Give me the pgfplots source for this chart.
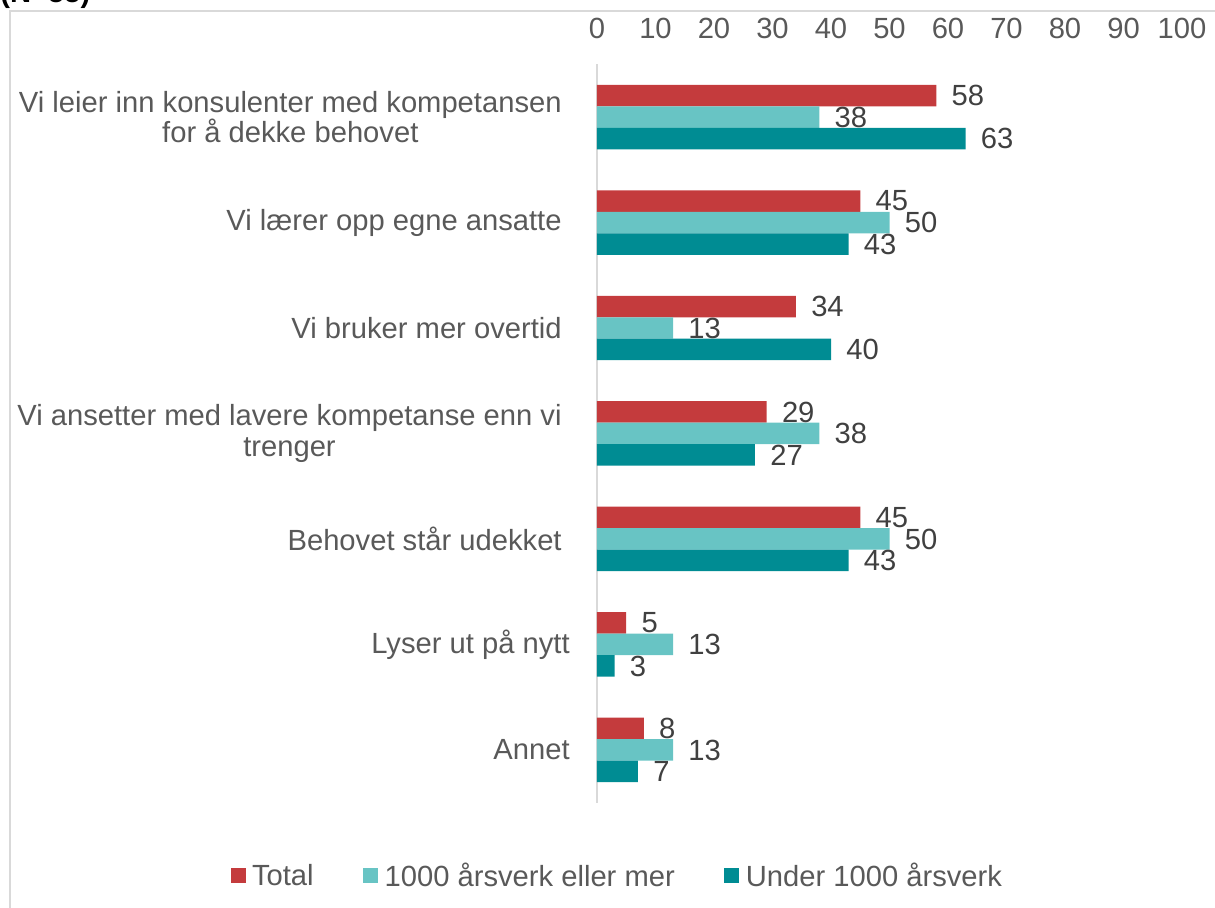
\documentclass[border=0pt]{standalone}
\usepackage{fontspec}
\setmainfont{Liberation Sans}
\usepackage{pgfplots}
\pgfplotsset{compat=1.18}
\definecolor{cTotal}{HTML}{C43B3D}
\definecolor{cBig}{HTML}{68C4C4}
\definecolor{cSmall}{HTML}{008C93}
\definecolor{txt}{HTML}{595959}
\definecolor{val}{HTML}{404040}
\definecolor{frame}{HTML}{D9D9D9}
\newcommand\f{\fontsize{16.6}{17.5}\selectfont}

% rows: 0 = Annet (bottom) ... 6 = Vi leier inn (top)
\pgfplotstableread{
row total big small
0   8   13  7
1   5   13  3
2   45  50  43
3   29  38  27
4   34  13  40
5   45  50  43
6   58  38  63
}\data

\begin{document}
\begin{tikzpicture}
\useasboundingbox (0,0) rectangle (24.3cm,18.16cm);
\clip (0,0) rectangle (24.3cm,18.16cm);
% outer frame and cut title
\draw[frame, line width=0.04cm] (0.2cm,0) -- (0.2cm,17.94cm) -- (24.3cm,17.94cm);
\node[anchor=base west, inner sep=0pt, font=\f\bfseries, text=black] at (0,18.1cm) {(N=55)};

\begin{axis}[
  at={(11.94cm,2.105cm)}, anchor=south west,
  scale only axis,
  width=11.7cm, height=14.77cm,
  xbar, bar width=0.43cm,
  xmin=0, xmax=100, ymin=-0.5, ymax=6.5,
  xtick={0,10,...,100},
  xticklabel pos=top,
  xticklabel style={font=\f, text=txt, inner sep=0pt, yshift=0.5cm},
  ytick={0,...,6},
  yticklabels={Annet\hspace*{-0.16cm}, Lyser ut på nytt\hspace*{-0.16cm}, Behovet står udekket,
    {Vi ansetter med lavere kompetanse enn vi\\trenger},
    Vi bruker mer overtid, Vi lærer opp egne ansatte,
    {Vi leier inn konsulenter med kompetansen\\for å dekke behovet}},
  yticklabel style={font=\f, text=txt, align=center, inner sep=0pt, xshift=-0.7cm},
  major tick length=0pt,
  axis line style={draw=none},
  /pgf/number format/assume math mode=true,
  nodes near coords,
  nodes near coords style={font=\f, text=val, anchor=west, inner sep=0pt, xshift=0.3cm},
  legend columns=3,
  legend style={at={(0.036,-0.099)}, anchor=center, draw=none, fill=none,
    font=\f, text=txt,
    /tikz/every even column/.append style={column sep=0.92cm},
    /tikz/every odd column/.append style={column sep=0.06cm}},
  legend image code/.code={\fill[#1] (0cm,-0.15cm) rectangle (0.3cm,0.15cm);},
  clip=false,
]
\draw[frame, line width=0.03cm] (axis cs:0,-0.5) -- (axis cs:0,6.5);
\addplot[fill=cTotal, draw=none, bar shift=0.43cm] table[x=total, y=row] {\data};
\addlegendentry{Total}
\addplot[fill=cBig, draw=none, bar shift=0cm] table[x=big, y=row] {\data};
\addlegendentry{1000 årsverk eller mer}
\addplot[fill=cSmall, draw=none, bar shift=-0.43cm] table[x=small, y=row] {\data};
\addlegendentry{Under 1000 årsverk}
\end{axis}
\end{tikzpicture}
\end{document}
